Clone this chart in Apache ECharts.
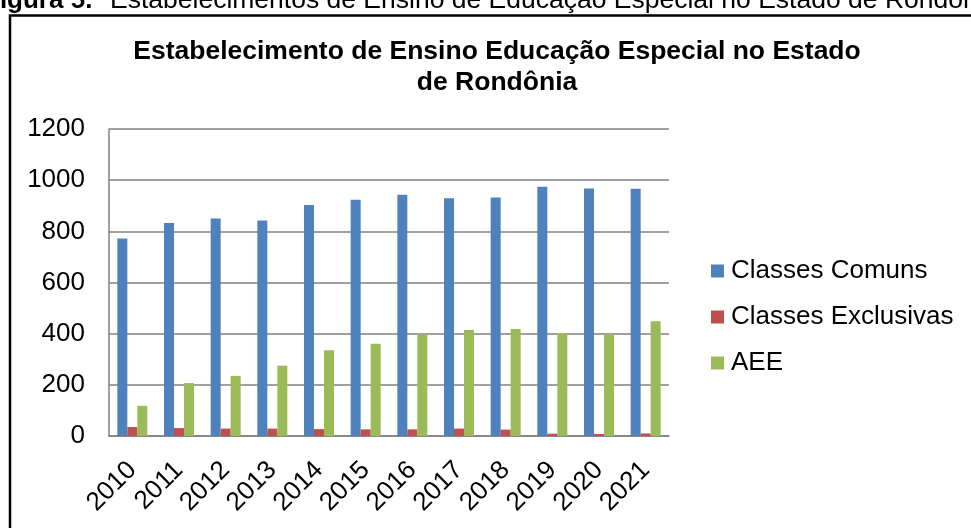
<!DOCTYPE html>
<html>
<head>
<meta charset="utf-8">
<script src="https://cdn.jsdelivr.net/npm/echarts@6/dist/echarts.min.js"></script>
<style>
  html, body { margin: 0; padding: 0; background: #fff; }
  #chart { width: 971px; height: 528px; }
</style>
</head>
<body>
<div id="chart"></div>
<script>
// dados
const anos = ['2010', '2011', '2012', '2013', '2014', '2015', '2016', '2017', '2018', '2019', '2020', '2021'];
const classesComuns = [772, 833, 850, 842, 903, 923, 943, 929, 932, 974, 967, 966];
const classesExclusivas = [35, 31, 29, 29, 27, 26, 26, 29, 25, 9, 8, 10];
const aee = [118, 207, 235, 275, 335, 361, 398, 414, 418, 403, 398, 449];
const yTicks = [0, 200, 400, 600, 800, 1000, 1200];

const fonte = 'Liberation Sans, Arial, sans-serif';

let myChart = echarts.init(document.getElementById('chart'));

function barSeries(name, data, color) {
    return {
        name: name,
        type: 'bar',
        data: data,
        barWidth: 10,
        barGap: '0%',
        itemStyle: { color: color }
    };
}

let option = {
    animation: false,
    textStyle: { fontFamily: fonte },
    title: {
        text: 'Estabelecimento de Ensino Educação Especial no Estado\nde Rondônia',
        left: 497,
        top: 36,
        padding: 0,
        textAlign: 'center',
        textStyle: { fontFamily: fonte, fontSize: 26.5, fontWeight: 'bold', color: '#000', lineHeight: 31 }
    },
    legend: {
        orient: 'vertical',
        left: 711,
        top: 258,
        padding: 0,
        itemWidth: 13,
        itemHeight: 13,
        itemGap: 20,
        icon: 'rect',
        textStyle: { fontFamily: fonte, fontSize: 26, color: '#000', lineHeight: 26, padding: [0, 0, 0, 2] },
        data: ['Classes Comuns', 'Classes Exclusivas', 'AEE']
    },
    grid: { left: 109, right: 302, top: 129, bottom: 92, containLabel: false },
    xAxis: {
        type: 'category',
        data: anos,
        axisLine: { lineStyle: { color: '#808080', width: 1.5 } },
        axisTick: { show: false },
        axisLabel: { rotate: 45, margin: 30, fontSize: 26, color: '#000', fontFamily: fonte, interval: 0 }
    },
    yAxis: {
        type: 'value',
        min: yTicks[0],
        max: yTicks[yTicks.length - 1],
        interval: 200,
        axisLine: { show: true, lineStyle: { color: '#808080', width: 1.5 } },
        axisTick: { show: false },
        splitLine: { lineStyle: { color: '#808080', width: 1.5 } },
        axisLabel: {
            margin: 24, fontSize: 26, color: '#000', fontFamily: fonte,
            formatter: v => String(v)
        }
    },
    graphic: [
        {
            type: 'rect',
            shape: { x: 10, y: 15.5, width: 1000, height: 600 },
            style: { fill: null, stroke: '#000', lineWidth: 2.5 },
            z: -1
        },
        {
            type: 'text',
            x: -16,
            y: 14,
            style: {
                text: 'Figura 5.',
                font: 'bold 26px ' + fonte,
                fill: '#000',
                verticalAlign: 'bottom'
            }
        },
        {
            type: 'text',
            x: 110,
            y: 14,
            style: {
                text: 'Estabelecimentos de Ensino de Educação Especial no Estado de Rondônia',
                font: '26.5px ' + fonte,
                fill: '#000',
                verticalAlign: 'bottom'
            }
        }
    ],
    series: [
        barSeries('Classes Comuns', classesComuns, '#4F81BD'),
        barSeries('Classes Exclusivas', classesExclusivas, '#C0504D'),
        barSeries('AEE', aee, '#9BBB59')
    ]
};

myChart.setOption(option);
</script>
</body>
</html>
